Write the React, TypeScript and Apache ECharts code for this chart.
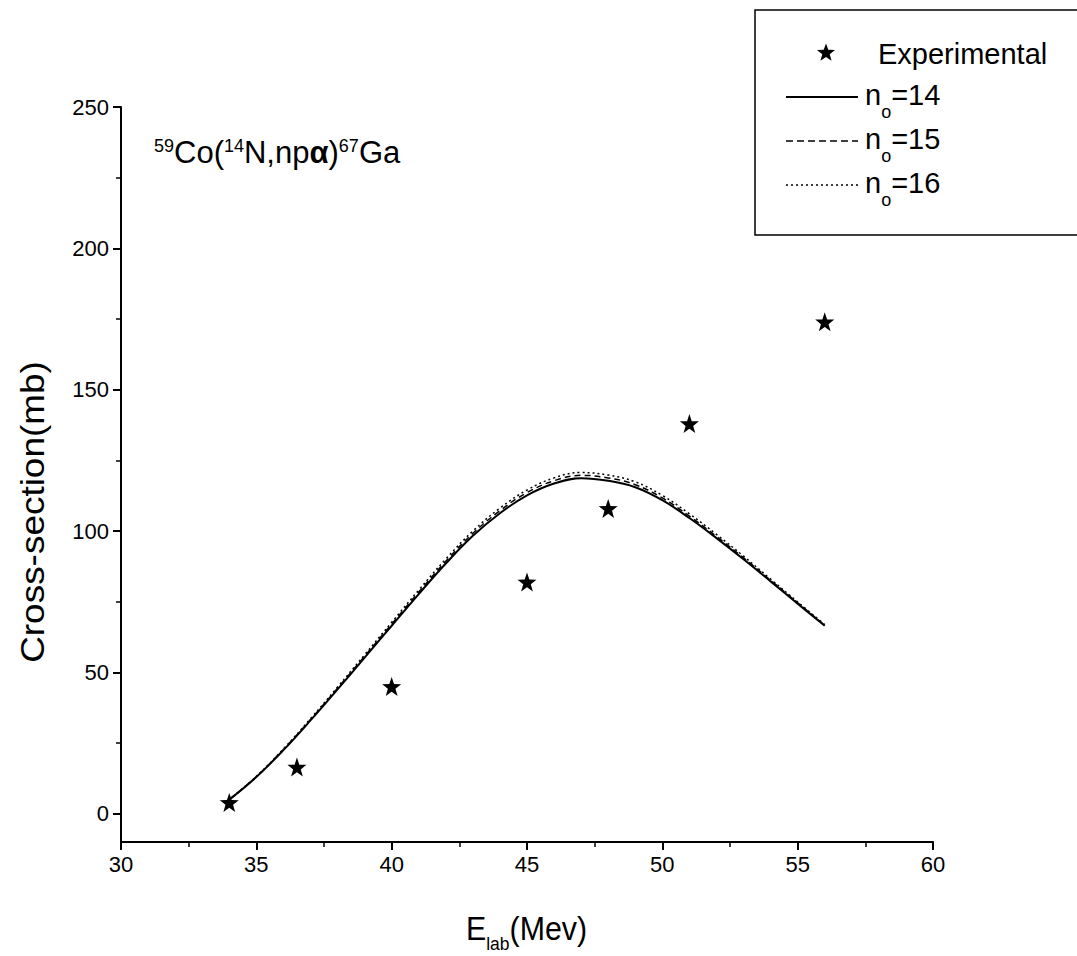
import React, { useEffect, useRef } from "react";
import * as echarts from "echarts";

// ---- data ----
const energy = [34, 35, 36, 37, 38, 39, 40, 41, 42, 43, 44, 45, 46, 47, 48, 49, 50, 51, 52, 53, 54, 55, 56];
const sigmaN14 = [5, 13, 22.5, 33, 44, 55.2, 66.5, 77.7, 88.5, 98.3, 106.3, 112.6, 116.8, 118.7, 117.8, 115.5, 110.9, 104.6, 97.5, 90, 82.2, 74.3, 66.5];
const sigmaN15 = [5, 13.1, 22.7, 33.3, 44.4, 55.7, 67.1, 78.4, 89.3, 99.2, 107.2, 113.6, 117.8, 119.7, 118.8, 116.4, 111.7, 105.3, 98.1, 90.5, 82.6, 74.6, 66.7];
const sigmaN16 = [5, 13.2, 22.9, 33.6, 44.8, 56.2, 67.7, 79.1, 90.1, 100, 108.1, 114.5, 118.8, 120.7, 119.8, 117.4, 112.6, 106.1, 98.8, 91.1, 83, 74.9, 66.9];
const expEnergy = [34, 36.5, 40, 45, 48, 51, 56];
const expSigma = [4, 16.5, 45, 82, 108, 138, 174];
const yMajorTicks = [0, 50, 100, 150, 200, 250];
const yMinorTicks = [25, 75, 125, 175, 225];
const legendLabels = ["Experimental", "14", "15", "16"];

const FONT = "'Liberation Sans', Arial, sans-serif";
const STAR =
  "path://M0,-10 L2.35,-3.24 L9.51,-3.09 L3.8,1.24 L5.88,8.09 L0,4 L-5.88,8.09 L-3.8,1.24 L-9.51,-3.09 L-2.35,-3.24 Z";

function starPoints(cx: number, cy: number, r: number, ri: number) {
  const pts: number[][] = [];
  for (let i = 0; i < 10; i++) {
    const a = -Math.PI / 2 + (i * Math.PI) / 5;
    const rr = i % 2 === 0 ? r : ri;
    pts.push([cx + rr * Math.cos(a), cy + rr * Math.sin(a)]);
  }
  return pts;
}

export default function App() {
  const ref = useRef<HTMLDivElement>(null);
  useEffect(() => {
    if (!ref.current) return;
    const chart = echarts.init(ref.current, null, { renderer: "svg" });
    const pair = (xs: number[], ys: number[]) => xs.map((x, i) => [x, ys[i]]);

    const subRich = {
      m: { fontSize: 29, lineHeight: 29, padding: [0, 0, 12, 0], verticalAlign: "bottom", fontFamily: FONT, fill: "#000" },
      s: { fontSize: 18, lineHeight: 18, verticalAlign: "bottom", fontFamily: FONT, fill: "#000" },
    };

    const legendRow = (label: string, y: number, dash: any) => [
      {
        type: "line",
        shape: { x1: 786, y1: y, x2: 858, y2: y },
        style: { stroke: "#000", lineWidth: dash === "solid" ? 2 : 1.5, lineDash: dash === "solid" ? null : dash },
      },
      {
        type: "text",
        x: 865,
        y: y - 5,
        style: { text: `{m|n}{s|o}{m|=${label}}`, rich: subRich, verticalAlign: "top", align: "left" },
      },
    ];

    const lineSeries = (name: string, ys: number[], width: number, type: any) => ({
      name,
      type: "line",
      smooth: 0.4,
      showSymbol: false,
      symbol: "none",
      lineStyle: { color: "#000", width, type },
      data: pair(energy, ys),
    });

    const option: any = {
      animation: false,
      backgroundColor: "#fff",
      grid: { left: 121, top: 107, width: 812, height: 735, containLabel: false },
      xAxis: {
        type: "value",
        min: 30,
        max: 60,
        interval: 5,
        axisLine: { show: true, onZero: false, lineStyle: { color: "#000", width: 2 } },
        axisTick: { show: true, length: 8, lineStyle: { color: "#000", width: 2 } },
        minorTick: { show: true, splitNumber: 2, length: 5, lineStyle: { color: "#000", width: 1.5 } },
        axisLabel: { color: "#000", fontSize: 22, margin: 11, fontFamily: FONT },
        splitLine: { show: false },
      },
      yAxis: [
        {
          type: "value",
          min: -10,
          max: 250,
          axisLine: { show: true, onZero: false, lineStyle: { color: "#000", width: 2 } },
          axisTick: { show: true, length: 8, customValues: yMajorTicks, lineStyle: { color: "#000", width: 2 } },
          axisLabel: { color: "#000", fontSize: 22, margin: 12, fontFamily: FONT, customValues: yMajorTicks },
          splitLine: { show: false },
        },
        {
          type: "value",
          min: -10,
          max: 250,
          position: "left",
          axisLine: { show: false, onZero: false },
          axisTick: { show: true, length: 5, customValues: yMinorTicks, lineStyle: { color: "#000", width: 1.5 } },
          axisLabel: { show: false },
          splitLine: { show: false },
        },
      ],
      series: [
        {
          name: legendLabels[0],
          type: "scatter",
          symbol: STAR,
          symbolSize: 19,
          itemStyle: { color: "#000", opacity: 1 },
          data: pair(expEnergy, expSigma),
          z: 5,
        },
        lineSeries("n14", sigmaN14, 2, "solid"),
        lineSeries("n15", sigmaN15, 1.5, [6, 4]),
        lineSeries("n16", sigmaN16, 1.5, [2, 3]),
      ],
      graphic: [
        {
          type: "rect",
          shape: { x: 755, y: 10, width: 340, height: 225 },
          style: { fill: "transparent", stroke: "#000", lineWidth: 1.5 },
        },
        {
          type: "polygon",
          shape: { points: starPoints(826, 53, 9.5, 3.9) },
          style: { fill: "#000" },
        },
        {
          type: "text",
          x: 878,
          y: 39,
          style: { text: legendLabels[0], fontSize: 29, fontFamily: FONT, fill: "#000", verticalAlign: "top", align: "left" },
        },
        ...legendRow(legendLabels[1], 97, "solid"),
        ...legendRow(legendLabels[2], 141, [7, 4]),
        ...legendRow(legendLabels[3], 185, [2, 3]),
        {
          type: "text",
          x: 154,
          y: 137,
          style: {
            text: "{p|59}{m|Co(}{p|14}{m|N,np}{a|α}{m|)}{p|67}{m|Ga}",
            verticalAlign: "top",
            align: "left",
            rich: {
              m: { fontSize: 31, lineHeight: 31, verticalAlign: "bottom", fontFamily: FONT, fill: "#000" },
              a: { fontSize: 31, lineHeight: 31, verticalAlign: "bottom", fontWeight: "bold", fontFamily: FONT, fill: "#000" },
              p: { fontSize: 18, lineHeight: 18, verticalAlign: "top", fontFamily: FONT, fill: "#000" },
            },
          },
        },
        {
          type: "text",
          x: 466,
          y: 920,
          scaleX: 0.92,
          style: {
            text: "{m|E}{s|lab}{m|(Mev)}",
            verticalAlign: "top",
            align: "left",
            rich: {
              m: { fontSize: 33, lineHeight: 33, padding: [0, 0, 8, 0], verticalAlign: "bottom", fontFamily: FONT, fill: "#000" },
              s: { fontSize: 19, lineHeight: 19, verticalAlign: "bottom", fontFamily: FONT, fill: "#000" },
            },
          },
        },
        {
          type: "text",
          x: 32,
          y: 512,
          rotation: Math.PI / 2,
          scaleX: 1.12,
          style: {
            text: "Cross-section(mb)",
            fontSize: 33,
            fontFamily: FONT,
            fill: "#000",
            align: "center",
            verticalAlign: "middle",
          },
        },
      ],
    };
    chart.setOption(option);
    return () => chart.dispose();
  }, []);
  return <div ref={ref} style={{ position: "absolute", left: 0, top: 0, width: 1077, height: 956 }} />;
}
